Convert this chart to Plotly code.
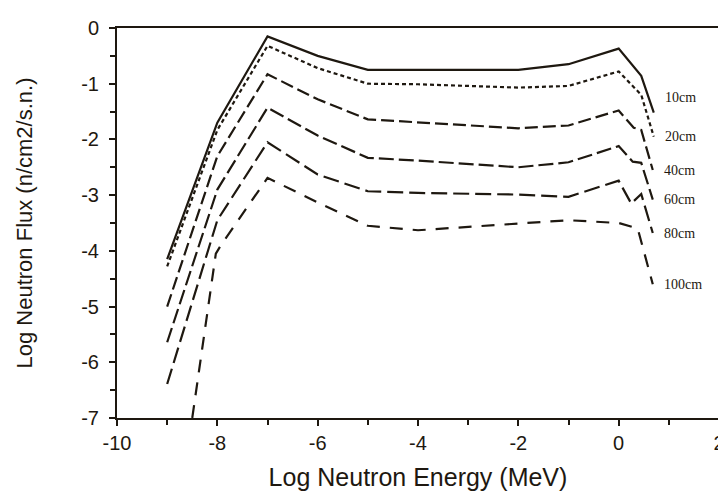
import plotly.graph_objects as go

# ---- data ----
x_10 = [-9, -8, -7, -6, -5, -2, -1, 0, 0.45, 0.7]
y_10 = [-4.15, -1.70, -0.15, -0.50, -0.75, -0.75, -0.65, -0.37, -0.86, -1.52]

x_20 = [-9, -8, -7, -6, -5, -4, -2, -1, 0, 0.45, 0.7]
y_20 = [-4.28, -1.83, -0.32, -0.72, -1.00, -1.01, -1.07, -1.04, -0.78, -1.20, -1.95]

x_40 = [-9, -8, -7, -6, -5, -4, -2, -1, 0, 0.3, 0.45, 0.68]
y_40 = [-5.00, -2.30, -0.83, -1.28, -1.64, -1.69, -1.80, -1.75, -1.48, -1.79, -1.83, -2.55]

x_60 = [-9, -8, -7, -6, -5, -4, -2, -1, 0, 0.28, 0.45, 0.68]
y_60 = [-5.64, -2.90, -1.43, -1.93, -2.33, -2.38, -2.50, -2.41, -2.12, -2.40, -2.42, -3.08]

x_80 = [-9, -8, -7, -6, -5, -4, -2, -1, 0, 0.25, 0.45, 0.68]
y_80 = [-6.39, -3.45, -2.05, -2.63, -2.93, -2.96, -2.99, -3.03, -2.74, -3.15, -2.98, -3.68]

x_100 = [-8.5, -8.03, -7.93, -7, -6, -5, -4, -3, -2, -1, 0, 0.38, 0.68]
y_100 = [-7.0, -4.05, -3.90, -2.69, -3.13, -3.55, -3.63, -3.57, -3.52, -3.45, -3.50, -3.60, -4.60]

series_names = ["10cm", "20cm", "40cm", "60cm", "80cm", "100cm"]

x_tickvals = [-10, -8, -6, -4, -2, 0, 2]
x_ticktext = ["-10", "-8", "-6", "-4", "-2", "0", "2"]
y_tickvals = [0, -1, -2, -3, -4, -5, -6, -7]
y_ticktext = ["0", "-1", "-2", "-3", "-4", "-5", "-6", "-7"]

# ---- styles ----
INK = "#1e1810"
dashes = ["solid", "4px,3px", "13px,5px", "15px,5px", "16px,6px", "13px,10px"]
label_yshift = [15, 0, 0, 0, 0, 0]

xs = [x_10, x_20, x_40, x_60, x_80, x_100]
ys = [y_10, y_20, y_40, y_60, y_80, y_100]

fig = go.Figure()
for name, xv, yv, d in zip(series_names, xs, ys, dashes):
    fig.add_trace(go.Scatter(x=xv, y=yv, mode="lines", name=name,
                             line=dict(color=INK, width=2.2, dash=d),
                             showlegend=False))

for name, xv, yv, ys_ in zip(series_names, xs, ys, label_yshift):
    fig.add_annotation(x=xv[-1], y=yv[-1], text=name, showarrow=False,
                       xanchor="left", yanchor="middle", xshift=9, yshift=ys_,
                       font=dict(family="Liberation Serif", size=14, color=INK))

axis_common = dict(
    showgrid=False, zeroline=False, showline=True, linecolor=INK, linewidth=2,
    mirror=True, ticks="outside", ticklen=6, tickwidth=1.5, tickcolor=INK,
    tickfont=dict(family="Liberation Sans", size=20, color=INK),
    ticklabeloverflow="allow",
)

fig.update_xaxes(range=[-10, 2], tickmode="array", tickvals=x_tickvals,
                 ticktext=x_ticktext,
                 minor=dict(dtick=1, ticks="outside", ticklen=5, tickwidth=1.5,
                            tickcolor=INK, showgrid=False),
                 title=dict(text="Log Neutron Energy (MeV)",
                            font=dict(family="Liberation Sans", size=25, color=INK),
                            standoff=15),
                 **axis_common)
fig.update_yaxes(range=[-7, 0], tickmode="array", tickvals=y_tickvals,
                 ticktext=y_ticktext,
                 minor=dict(dtick=0.5, ticks="outside", ticklen=5, tickwidth=1.5,
                            tickcolor=INK, showgrid=False),
                 title=dict(text="Log Neutron Flux (n/cm2/s.n.)",
                            font=dict(family="Liberation Sans", size=22, color=INK),
                            standoff=43),
                 ticklabelstandoff=6,
                 **axis_common)

fig.update_layout(width=726, height=495,
                  margin=dict(l=109, r=13, t=9, b=85),
                  plot_bgcolor="white", paper_bgcolor="white")

fig.write_html("out.html")
